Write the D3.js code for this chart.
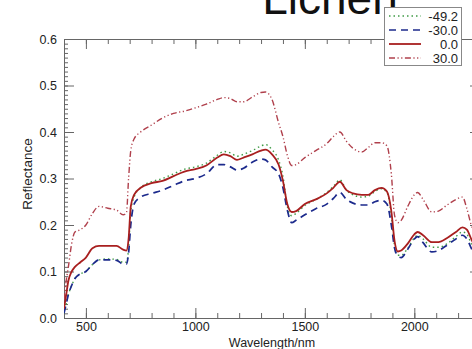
<!DOCTYPE html>
<html><head><meta charset="utf-8">
<script src="https://cdn.jsdelivr.net/npm/d3@7"></script>
<style>
html,body{margin:0;padding:0;background:#fff;overflow:hidden;}
svg{display:block;font-family:"Liberation Sans",Arial,sans-serif;}
</style></head>
<body>
<script>
const title = "Lichen";
const xLabel = "Wavelength/nm";
const yLabel = "Reflectance";
const xTicks = [500, 1000, 1500, 2000];
const yTicks = [0.0, 0.1, 0.2, 0.3, 0.4, 0.5, 0.6];
const seriesNames = ["-49.2", "-30.0", "0.0", "30.0"];
const wavelengths = [400,410,420,435,450,475,500,530,560,600,640,670,685,695,705,720,750,800,850,900,950,1000,1050,1100,1130,1160,1190,1220,1260,1300,1320,1350,1380,1400,1420,1440,1460,1500,1550,1600,1630,1660,1690,1720,1760,1790,1820,1850,1875,1895,1910,1925,1940,1970,2000,2015,2040,2080,2110,2150,2190,2220,2240,2260,2280,2300];
const sMinus49 = [0.01,0.03,0.05,0.07,0.085,0.095,0.10,0.115,0.125,0.127,0.126,0.12,0.12,0.15,0.23,0.26,0.28,0.293,0.30,0.31,0.32,0.325,0.333,0.35,0.358,0.355,0.348,0.352,0.36,0.37,0.373,0.362,0.34,0.305,0.24,0.22,0.225,0.242,0.255,0.27,0.283,0.297,0.275,0.265,0.26,0.262,0.272,0.278,0.27,0.22,0.155,0.135,0.135,0.15,0.172,0.178,0.17,0.152,0.152,0.16,0.175,0.185,0.18,0.16,0.14,0.12];
const sMinus30 = [0.01,0.03,0.05,0.07,0.085,0.095,0.10,0.115,0.125,0.125,0.124,0.116,0.116,0.14,0.20,0.245,0.26,0.268,0.275,0.285,0.295,0.30,0.31,0.33,0.33,0.325,0.318,0.322,0.335,0.342,0.34,0.325,0.31,0.28,0.232,0.205,0.21,0.222,0.235,0.245,0.257,0.27,0.255,0.247,0.243,0.243,0.25,0.253,0.245,0.20,0.15,0.133,0.13,0.148,0.17,0.175,0.162,0.142,0.145,0.157,0.17,0.178,0.17,0.15,0.13,0.11];
const sZero = [0.02,0.05,0.08,0.10,0.11,0.12,0.13,0.15,0.155,0.155,0.155,0.147,0.145,0.17,0.24,0.265,0.28,0.29,0.295,0.305,0.315,0.32,0.328,0.345,0.352,0.348,0.34,0.345,0.352,0.36,0.362,0.352,0.33,0.295,0.245,0.228,0.23,0.245,0.255,0.268,0.28,0.293,0.275,0.268,0.265,0.265,0.275,0.28,0.272,0.23,0.165,0.143,0.145,0.16,0.18,0.185,0.178,0.163,0.163,0.172,0.185,0.195,0.19,0.17,0.15,0.13];
const sPlus30 = [0.04,0.08,0.11,0.16,0.185,0.19,0.20,0.225,0.24,0.236,0.232,0.222,0.225,0.30,0.36,0.385,0.40,0.415,0.43,0.44,0.445,0.452,0.46,0.47,0.474,0.472,0.465,0.465,0.475,0.485,0.486,0.47,0.42,0.39,0.35,0.328,0.33,0.345,0.36,0.375,0.39,0.40,0.38,0.365,0.357,0.367,0.377,0.377,0.37,0.31,0.22,0.205,0.21,0.24,0.265,0.27,0.255,0.228,0.23,0.243,0.255,0.26,0.235,0.20,0.18,0.16];
const seriesValues = [sMinus49, sMinus30, sZero, sPlus30];
const colors = ["#3f9a45", "#1c2a8c", "#a81f1f", "#b0404c"];
const dashes = ["1.5,3", "7,5", null, "6,2.5,1.2,2.5,1.2,2.5"];
const widths = [1.4, 1.7, 1.8, 1.4];

const W = 472, H = 349;
const L = 64, R = 480, T = 39, B = 318;
const svg = d3.select("body").append("svg").attr("width", W).attr("height", H);
const x = d3.scaleLinear().domain([400, 2300]).range([L, R]);
const y = d3.scaleLinear().domain([0, 0.6]).range([B, T]);

svg.append("defs").append("clipPath").attr("id","clip")
  .append("rect").attr("x",L).attr("y",T).attr("width",R-L).attr("height",B-T);

const axisColor = "#666";
function styleAxis(g){ g.selectAll("path,line").attr("stroke", axisColor); g.selectAll("text").attr("fill","#222").attr("font-size",12.5); }

// minor ticks
const xMinor = d3.range(400, 2301, 100);
const yMinor = d3.range(0, 0.6001, 0.01);
svg.append("g").attr("transform",`translate(0,${B})`).call(d3.axisBottom(x).tickValues(xMinor).tickSize(-5).tickFormat("").tickSizeOuter(0)).call(styleAxis);
svg.append("g").attr("transform",`translate(0,${T})`).call(d3.axisTop(x).tickValues(xMinor).tickSize(-5).tickFormat("").tickSizeOuter(0)).call(styleAxis);
svg.append("g").attr("transform",`translate(${L},0)`).call(d3.axisLeft(y).tickValues(yMinor).tickSize(-4).tickFormat("").tickSizeOuter(0)).call(styleAxis);
svg.append("g").attr("transform",`translate(${R},0)`).call(d3.axisRight(y).tickValues(yMinor).tickSize(-4).tickFormat("").tickSizeOuter(0)).call(styleAxis);
// major ticks
svg.append("g").attr("transform",`translate(0,${B})`).call(d3.axisBottom(x).tickValues(xTicks).tickSize(-10).tickPadding(4).tickSizeOuter(0).tickFormat(d3.format("d"))).call(styleAxis);
svg.append("g").attr("transform",`translate(0,${T})`).call(d3.axisTop(x).tickValues(xTicks).tickSize(-10).tickFormat("").tickSizeOuter(0)).call(styleAxis);
svg.append("g").attr("transform",`translate(${L},0)`).call(d3.axisLeft(y).tickValues(yTicks).tickSize(-10).tickPadding(7).tickSizeOuter(0).tickFormat(d3.format(".1f"))).call(styleAxis);
svg.append("g").attr("transform",`translate(${R},0)`).call(d3.axisRight(y).tickValues(yTicks).tickSize(-10).tickFormat("").tickSizeOuter(0)).call(styleAxis);

const line = d3.line().curve(d3.curveMonotoneX);
const plot = svg.append("g").attr("clip-path","url(#clip)");
seriesValues.forEach((vals, i) => {
  plot.append("path")
    .attr("d", line(wavelengths.map((w, j) => [x(w), y(vals[j])])))
    .attr("fill","none").attr("stroke", colors[i]).attr("stroke-width", widths[i])
    .attr("stroke-dasharray", dashes[i]).attr("stroke-linejoin","round");
});

// labels
svg.append("text").attr("x", 272).attr("y", 346.5).attr("text-anchor","middle").attr("font-size",12.5).attr("fill","#222").text(xLabel);
svg.append("text").attr("transform","translate(32,174) rotate(-90)").attr("text-anchor","middle").attr("font-size",13.5).attr("fill","#222").text(yLabel);
svg.append("text").attr("x", 330).attr("y", 14).attr("text-anchor","middle").attr("font-size",46).attr("fill","#111").text(title);

// legend
const lg = svg.append("g");
lg.append("rect").attr("x",384.5).attr("y",7.5).attr("width",77).attr("height",58).attr("fill","#fff").attr("stroke","#888");
seriesNames.forEach((name, i) => {
  const yy = 16 + i*14;
  lg.append("line").attr("x1",389).attr("x2",421).attr("y1",yy).attr("y2",yy)
    .attr("stroke",colors[i]).attr("stroke-width",widths[i]).attr("stroke-dasharray",dashes[i]);
  lg.append("text").attr("x",458).attr("y",yy+4.5).attr("text-anchor","end").attr("font-size",13).attr("fill","#222").text(name);
});
</script>
</body></html>
